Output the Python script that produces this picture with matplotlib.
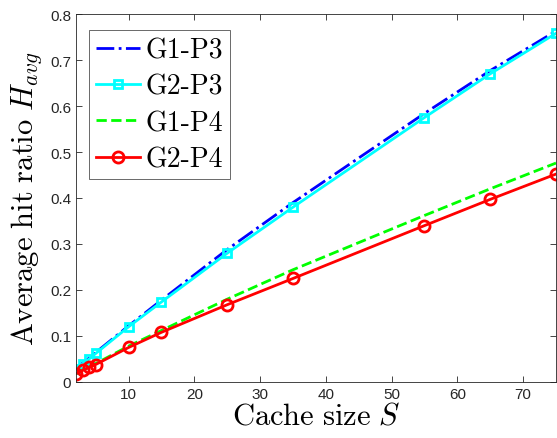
import numpy as np
import matplotlib.pyplot as plt

# === Data ===
cache_size = [2, 3, 4, 5, 10, 15, 25, 35, 55, 65, 75]
g1_p3 = [0.029, 0.041, 0.052, 0.064, 0.122, 0.178, 0.288, 0.390, 0.584, 0.677, 0.763]
g2_p3 = [0.028, 0.040, 0.050, 0.062, 0.120, 0.174, 0.280, 0.380, 0.575, 0.670, 0.758]
g1_p4 = [0.018, 0.026, 0.033, 0.040, 0.078, 0.112, 0.180, 0.244, 0.362, 0.420, 0.476]
g2_p4 = [0.018, 0.025, 0.032, 0.038, 0.075, 0.108, 0.168, 0.225, 0.340, 0.397, 0.452]

plt.rcParams['mathtext.fontset'] = 'cm'
plt.rcParams['axes.unicode_minus'] = False

fig = plt.figure(figsize=(5.57, 4.39), dpi=100)
ax = fig.add_axes([0.1364, 0.1276, 0.8618, 0.8382])

lw = 2.0
ax.plot(cache_size, g1_p3, color='#0000ff', linestyle='-.', linewidth=lw, label='G1-P3')
ax.plot(cache_size, g2_p3, color='#00ffff', linestyle='-', linewidth=lw, marker='s',
        markersize=6, markerfacecolor='none', markeredgewidth=2, label='G2-P3')
ax.plot(cache_size, g1_p4, color='#00ff00', linestyle='--', linewidth=lw, label='G1-P4')
ax.plot(cache_size, g2_p4, color='#ff0000', linestyle='-', linewidth=lw, marker='o',
        markersize=8, markerfacecolor='none', markeredgewidth=2, label='G2-P4')

ax.set_xlim(2, 75)
ax.set_ylim(0, 0.8)
ax.set_xticks([10, 20, 30, 40, 50, 60, 70])
ax.set_yticks(np.arange(0, 0.81, 0.1))
ax.set_yticklabels(['0', '0.1', '0.2', '0.3', '0.4', '0.5', '0.6', '0.7', '0.8'])

ax.tick_params(direction='in', top=True, right=True, labelsize=11, colors='#262626',
               length=4, width=0.6)
for lab in ax.get_xticklabels() + ax.get_yticklabels():
    lab.set_family('Liberation Sans')
for s in ax.spines.values():
    s.set_color('#262626')
    s.set_linewidth(0.6)

ax.set_xlabel(r'$\mathrm{Cache\ size}\ S$', fontsize=22, labelpad=0)
ax.set_ylabel(r'$\mathrm{Average\ hit\ ratio}\ H_{avg}$', fontsize=22, labelpad=4)

leg = ax.legend(loc='upper left', bbox_to_anchor=(0.027, 0.956),
                prop={'family': 'cmr10', 'size': 20},
                fancybox=False, edgecolor='#262626', handlelength=1.6,
                borderaxespad=0, labelspacing=0.36, handletextpad=0.2,
                borderpad=0.25)
leg.get_frame().set_linewidth(0.6)

fig.savefig('out.png', dpi=100)
